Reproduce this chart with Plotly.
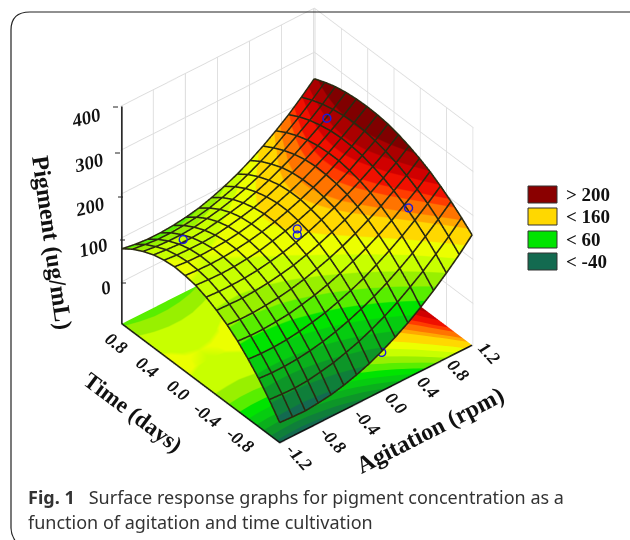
import plotly.graph_objects as go

agitation = [-1.2,-1.04,-0.88,-0.72,-0.56,-0.4,-0.24,-0.08,0.08,0.24,0.4,0.56,0.72,0.88,1.04,1.2]
time_days = [-1.2,-1.04,-0.88,-0.72,-0.56,-0.4,-0.24,-0.08,0.08,0.24,0.4,0.56,0.72,0.88,1.04,1.2]
pigment = [
 [-50,-52,-53,-50,-46,-39,-30,-19,-5,11,29,50,73,98,125,155],
 [-16,-18,-19,-17,-12,-6,3,13,26,41,58,78,99,123,148,176],
 [14,12,12,14,18,24,32,42,54,68,84,102,122,145,169,195],
 [40,38,38,40,44,50,57,67,78,91,107,124,143,164,187,212],
 [63,61,61,63,66,72,79,88,99,112,126,142,160,181,202,227],
 [82,80,80,82,85,90,97,106,116,128,142,158,175,195,215,239],
 [97,96,95,97,100,105,111,120,130,142,155,170,187,206,226,249],
 [109,107,107,108,111,116,122,130,140,152,165,180,196,214,234,257],
 [118,116,115,116,119,123,130,138,147,158,171,186,202,221,240,263],
 [122,120,119,120,123,127,133,141,151,162,175,189,206,224,244,266],
 [124,121,120,121,123,127,133,141,151,162,175,190,206,225,245,267],
 [121,118,117,117,119,124,130,137,147,159,172,187,204,223,243,266],
 [115,112,110,110,112,117,123,130,140,152,166,181,199,218,239,263],
 [105,101,99,99,101,106,112,120,130,142,156,172,191,211,233,258],
 [92,88,85,85,87,91,97,106,116,129,144,160,180,201,224,250],
 [75,70,67,67,69,73,79,88,99,112,128,146,166,188,213,240],
]
point_agitation = [0.852, 0.79, -0.89, 0.07, -0.108, -0.108]
point_time = [0.588, -0.73, 0.65, -1.2, -0.132, -0.132]
point_pigment = [253, 203, 131, -6, 171, 157]

band_edges = [-60,-40,-20,0,20,40,60,80,100,120,140,165,175,190,200,215,230,245,300]
band_colors = ["#136a50","#0f7f3a","#0d9628","#0ab01c","#06cc10","#00e400","#58ee00","#98f000",
               "#c8ff00","#ecff00","#ffd800","#ffa800","#ff7400","#ff3c00","#f01000","#d00000","#aa0000","#800000"]
legend_labels = ["> 200", "< 160", "< 60", "< -40"]
legend_colors = ["#8a0000", "#ffd800", "#00e400", "#136a50"]
z_ticks = [0,100,200,300,400]
xy_ticks = [-1.2,-0.8,-0.4,0.0,0.4,0.8,1.2]
agitation_tick_text = ["-1.2","-0.8","-0.4","0.0","0.4","0.8","1.2"]
time_tick_text = ["-0.8","-0.4","0.0","0.4","0.8"]
floor_z = -94
top_z = 400

span = band_edges[-1]-band_edges[0]
colorscale = []
for i, c in enumerate(band_colors):
    colorscale.append([(band_edges[i]-band_edges[0])/span, c])
    colorscale.append([(band_edges[i+1]-band_edges[0])/span, c])

flat = dict(ambient=1, diffuse=0, specular=0, roughness=1, fresnel=0)
fig = go.Figure()
fig.add_trace(go.Surface(x=agitation, y=time_days, z=[[floor_z]*len(agitation) for _ in time_days], surfacecolor=pigment,
    colorscale=colorscale, cmin=band_edges[0], cmax=band_edges[-1], showscale=False, lighting=flat, hoverinfo="skip"))
fig.add_trace(go.Surface(x=agitation, y=time_days, z=pigment, surfacecolor=pigment,
    colorscale=colorscale, cmin=band_edges[0], cmax=band_edges[-1], showscale=False, lighting=flat))
# wire mesh on the surface, one line per row and per column of the table
lift = 1.5
mx, my, mz = [], [], []
for j, t in enumerate(time_days):
    for i, a in enumerate(agitation):
        mx.append(a); my.append(t); mz.append(pigment[j][i]+lift)
    mx.append(None); my.append(None); mz.append(None)
for i, a in enumerate(agitation):
    for j, t in enumerate(time_days):
        mx.append(a); my.append(t); mz.append(pigment[j][i]+lift)
    mx.append(None); my.append(None); mz.append(None)
fig.add_trace(go.Scatter3d(x=mx, y=my, z=mz, mode="lines", line=dict(color="#2a2a10", width=3.2)))
fig.add_trace(go.Scatter3d(x=point_agitation, y=point_time, z=point_pigment, mode="markers",
    marker=dict(symbol="circle-open", size=5, color="#1a1ae0", line=dict(color="#1a1ae0", width=2))))
fig.add_trace(go.Scatter3d(x=[-1.2,-1.2,-1.2,1.2], y=[1.2,1.2,-1.2,-1.2], z=[top_z,floor_z,floor_z,floor_z],
    mode="lines", line=dict(color="#111111", width=3)))

def axis(ticks, rng):
    return dict(range=rng, tickvals=ticks, showticklabels=False, title=dict(text=""), showbackground=False,
                gridcolor="#dcdcdc", gridwidth=2, showline=False, zeroline=False, showspikes=False, ticks="")

fig.update_layout(
    width=630, height=540, margin=dict(l=0,r=0,t=0,b=0), paper_bgcolor="white", showlegend=False,
    scene=dict(domain=dict(x=[0,594/630], y=[1-452/540,1.0]),
        xaxis=axis(xy_ticks,[-1.21,1.21]), yaxis=axis(xy_ticks,[-1.21,1.21]), zaxis=axis(z_ticks,[-96,top_z+1]),
        aspectmode="manual", aspectratio=dict(x=1.11,y=1.11,z=1.23),
        camera=dict(eye=dict(x=-0.99,y=-1.207,z=1.225), center=dict(x=0,y=0,z=0), projection=dict(type="orthographic"))),
)

def px(x): return x/630
def py(y): return 1-y/540
ser = "Liberation Serif"
shapes = [dict(type="path", xref="paper", yref="paper",
    path=f"M {px(640)} {py(12)} L {px(30)} {py(12)} Q {px(11)} {py(12)} {px(11)} {py(30)} L {px(11)} {py(528)} Q {px(11)} {py(535)} {px(16)} {py(542)}",
    line=dict(color="#222", width=1.2))]
anns = []
def note(x, y, text, angle=0, size=18, family=ser, color="#111", xanchor="center"):
    anns.append(dict(xref="paper", yref="paper", x=px(x), y=py(y), xanchor=xanchor, yanchor="middle", showarrow=False,
                     text=text, textangle=angle, font=dict(family=family, size=size, color=color)))
legend_y = [186,208,231,253]
for lab,c,y0 in zip(legend_labels, legend_colors, legend_y):
    shapes.append(dict(type="rect", xref="paper", yref="paper", x0=px(528), x1=px(557), y0=py(y0), y1=py(y0+17),
                       fillcolor=c, line=dict(color="#333", width=1)))
    note(564, y0+8, f"<b>{lab}</b>", size=19, xanchor="left")
agit_pos = [(299,457),(333,440),(367,422),(396,403),(428,387),(458,370),(489,353)]
for t,(x,y) in zip(agitation_tick_text, agit_pos):
    note(x, y, f"<b><i>{t}</i></b>", angle=48)
time_pos = [(240,440),(207,415),(178,390),(147,367),(116,343)]
for t,(x,y) in zip(time_tick_text, time_pos):
    note(x, y, f"<b><i>{t}</i></b>", angle=38)
z_pos = [(106,287),(93,247),(90,207),(89,163),(86,117)]
z_tick_y = [283,240,197,153,107]
z_tick_x = [121,120,118,115,113]
for v,(x,y),ty,tx in zip(z_ticks, z_pos, z_tick_y, z_tick_x):
    note(x, y, f"<b><i>{v}</i></b>", angle=-14, size=19)
    shapes.append(dict(type="line",xref="paper",yref="paper",x0=px(tx),x1=px(tx+5),y0=py(ty),y1=py(ty),line=dict(color="#222",width=1)))
note(52, 242, "<b>Pigment (ug/mL)</b>", angle=82, size=24)
note(133, 412, "<b>Time (days)</b>", angle=37, size=23)
note(430, 430, "<b>Agitation (rpm)</b>", angle=-27, size=24)
note(26, 497, "<b>Fig. 1</b>   Surface response graphs for pigment concentration as a", size=18, family="Noto Sans", color="#333", xanchor="left")
note(26, 522, "function of agitation and time cultivation", size=18, family="Noto Sans", color="#333", xanchor="left")
fig.update_layout(shapes=shapes, annotations=anns)
fig.write_html("out.html", config=dict(displayModeBar=False), post_script="document.body.style.margin='0';")
